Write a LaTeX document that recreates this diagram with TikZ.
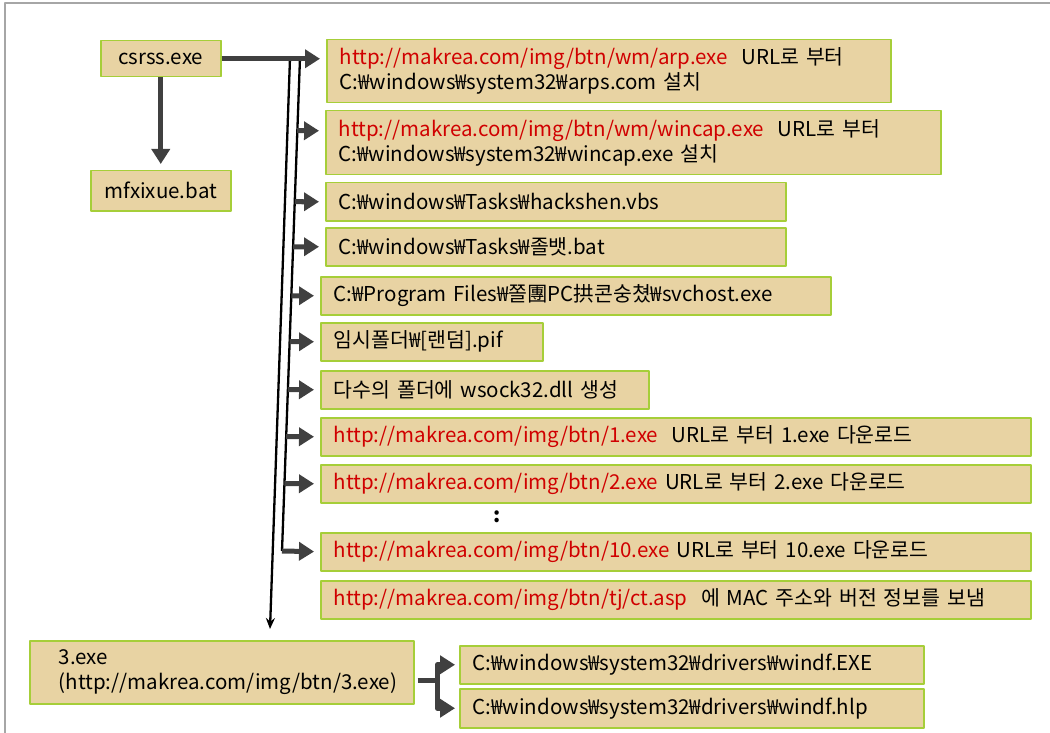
\documentclass[tikz,border=0pt]{standalone}
\usepackage{fontspec}
\setmainfont{Noto Sans CJK KR}
\usetikzlibrary{arrows.meta,calc}
\definecolor{paper}{HTML}{E8D3A3}
\definecolor{leaf}{HTML}{A6CE39}
\definecolor{ink}{HTML}{404040}
\definecolor{url}{HTML}{D00000}
\newcommand{\red}[1]{\textcolor{url}{#1}}
\begin{document}
\begin{tikzpicture}[x=1pt,y=-1pt,line join=round,font=\fontsize{20.5}{25}\selectfont,
	box/.style={draw=leaf,fill=paper,line width=1.5pt,anchor=north west,inner xsep=13pt,inner ysep=0pt,align=left,minimum height=38pt},
	fat/.style={ink,line width=5pt,-{Triangle[length=15pt,width=18pt]},shorten >=6pt},
	thin/.style={black,line width=2.3pt}]
	
	\useasboundingbox (0,0) rectangle (1050,733);
	\draw[gray!70,line width=1.2pt] (5,733)--(5,3)--(1050,3);
	
	% source files
	\node[box,align=center,text width=94pt,minimum height=36pt] (csrss) at (100,40) {csrss.exe};
	\node[box,align=center,text width=114pt,minimum height=40pt] (mfxixue) at (90,170) {mfxixue.bat};
	
	% created files
	\node[box,text width=538pt,minimum height=63pt] (arp) at (326,39)
	{\red{http://makrea.com/img/btn/wm/arp.exe}\ \ URL로 부터\\C:₩windows₩system32₩arps.com 설치};
	\node[box,text width=589pt,minimum height=64pt] (wincap) at (325,110)
	{\red{http://makrea.com/img/btn/wm/wincap.exe}\ \ URL로 부터\\C:₩windows₩system32₩wincap.exe 설치};
	\node[box,text width=434pt] (vbs) at (325,182) {C:₩windows₩Tasks₩hackshen.vbs};
	\node[box,text width=434pt] (bat) at (325,227) {C:₩windows₩Tasks₩졸뱃.bat};
	\node[box,text width=484pt] (svchost) at (320,276) {C:₩Program Files₩쫄團PC拱콘숭쳤₩svchost.exe};
	\node[box,text width=196pt] (pif) at (320,322) {임시폴더₩[랜덤].pif};
	\node[box,text width=302pt] (wsock) at (320,370) {다수의 폴더에 wsock32.dll 생성};
	\node[box,text width=684pt] (dla) at (320,417) {\red{http://makrea.com/img/btn/1.exe}\ \ URL로 부터 1.exe 다운로드};
	\node[box,text width=684pt] (dlb) at (320,464) {\red{http://makrea.com/img/btn/2.exe} URL로 부터 2.exe 다운로드};
	\node (dots) at (497,517) {\textbf{:}};
	\node[box,text width=684pt] (dlj) at (320,532) {\red{http://makrea.com/img/btn/10.exe} URL로 부터 10.exe 다운로드};
	\node[box,text width=684pt] (mac) at (320,580) {\red{http://makrea.com/img/btn/tj/ct.asp}\ \ 에 MAC 주소와 버전 정보를 보냄};
	
	% 3.exe and its drops
	\node[box,inner xsep=29pt,text width=326pt,minimum height=63pt] (exe3) at (29,640) {3.exe\\(http://makrea.com/img/btn/3.exe)};
	\node[box,text width=438pt] (windfexe) at (459,645) {C:₩windows₩system32₩drivers₩windf.EXE};
	\node[box,text width=438pt,minimum height=39pt] (windfhlp) at (459,688) {C:₩windows₩system32₩drivers₩windf.hlp};
	
	% bus lines
	\coordinate (busA) at (300,58);
	\coordinate (busB) at (282,551);
	\coordinate (trunkA) at (290,58);
	\coordinate (trunkB) at (270,629);
	
	\draw[fat] (csrss.south)--(mfxixue.north);
	\draw[thin,-{Stealth[length=11pt,width=9pt]}] (trunkA)--(trunkB);
	\draw[thin] (busA)--(busB);
	\draw[fat] (csrss.east)--(csrss.east -| arp.west);
	\coordinate (tap) at (intersection of busA--busB and wincap.west--wincap.east);
	\draw[fat] ($(tap)+(0,-12)$)--($(wincap.west)+(0,-12)$);
	\foreach \b in {vbs,bat,svchost,pif,wsock,dla,dlb}
	\draw[fat] (intersection of busA--busB and \b.west--\b.east)--(\b.west);
	\draw[fat] (busB)--(dlj.west);
	
	\coordinate (fork) at ($(exe3.east)+(23,8)$);
	\draw[ink,line width=5pt] ($(exe3.east)+(3,8)$)--(fork);
	\draw[fat,shorten >=4pt] (fork) |- (windfexe.west);
	\draw[fat,shorten >=4pt] (fork) |- (windfhlp.west);
\end{tikzpicture}
\end{document}
